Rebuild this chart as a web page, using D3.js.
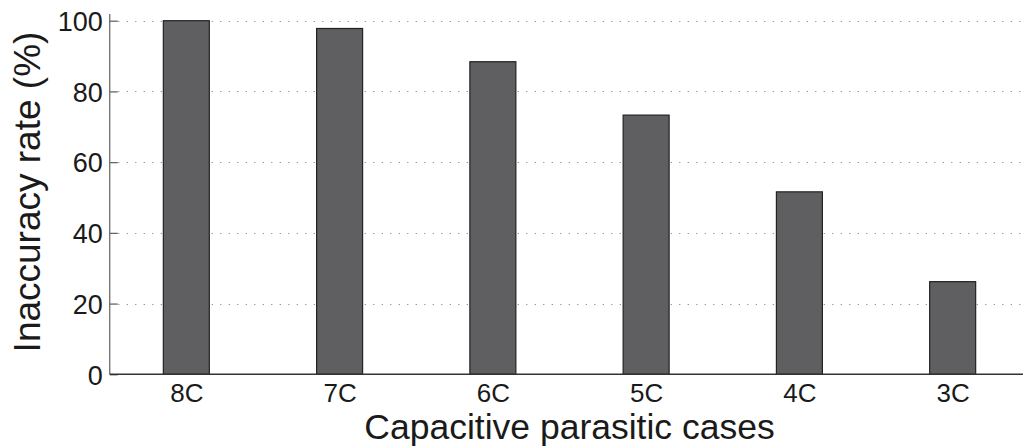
<!DOCTYPE html>
<html><head><meta charset="utf-8">
<script src="https://cdn.jsdelivr.net/npm/d3@7"></script>
<style>
html,body{margin:0;padding:0;background:#fff;}
text{font-family:"Liberation Sans",Arial,Helvetica,sans-serif;fill:#1a1a1a;}
</style></head>
<body>
<svg id="chart" width="1023" height="446"></svg>
<script>
const categories = ["8C","7C","6C","5C","4C","3C"];
const values = [100, 97.8, 88.4, 73.3, 51.6, 26.2];
const yTicks = [0, 20, 40, 60, 80, 100];
const xLabel = "Capacitive parasitic cases";
const yLabel = "Inaccuracy rate (%)";

const svg = d3.select("#chart");
const left = 109.7, right = 1029.3, y0 = 374.3, y100 = 20.7, axisTop = 14;

const x = d3.scaleLinear().domain([0.5, categories.length + 0.5]).range([left, right]);
const y = d3.scaleLinear().domain([0, 100]).range([y0, y100]);
const barW = (x(1) - x(0)) * 0.3;

// grid
svg.append("g").selectAll("line").data(yTicks.filter(d => d > 0)).join("line")
  .attr("x1", left).attr("x2", right)
  .attr("y1", d => Math.round(y(d)) + 0.5).attr("y2", d => Math.round(y(d)) + 0.5)
  .attr("stroke", "#8a8a8a").attr("stroke-width", 1)
  .attr("stroke-dasharray", "1.2,7.3");

// bars
svg.append("g").selectAll("rect").data(values).join("rect")
  .attr("x", (d, i) => x(i + 1) - barW / 2)
  .attr("width", barW)
  .attr("y", d => y(d))
  .attr("height", d => y0 - y(d))
  .attr("fill", "#5f5f61")
  .attr("stroke", "#222").attr("stroke-width", 1.2);

// y axis
const yAxis = d3.axisLeft(y).tickValues(yTicks).tickSizeInner(-8).tickSizeOuter(0).tickPadding(7);
const gy = svg.append("g").attr("transform", `translate(${left},0)`).call(yAxis);
gy.select(".domain").remove();
gy.selectAll(".tick line").attr("stroke", "#666").attr("stroke-width", 1.3);
gy.selectAll(".tick text").attr("font-size", 27).attr("dy", "0.36em").style("fill", "#1a1a1a");
svg.append("line").attr("x1", left).attr("x2", left).attr("y1", axisTop).attr("y2", y0)
  .attr("stroke", "#777").attr("stroke-width", 1.4);

// x axis
const xAxis = d3.axisBottom(x).tickValues(d3.range(1, categories.length + 1))
  .tickFormat(d => categories[d - 1]).tickSize(0).tickPadding(9);
const gx = svg.append("g").attr("transform", `translate(0,${y0})`).call(xAxis);
gx.select(".domain").remove();
gx.selectAll(".tick text").attr("font-size", 26).attr("dy", "0.71em").style("fill", "#1a1a1a");
svg.append("line").attr("x1", left).attr("x2", right).attr("y1", y0).attr("y2", y0)
  .attr("stroke", "#333").attr("stroke-width", 1.4);

// labels
svg.append("text").attr("x", (left + right) / 2).attr("y", 438.8)
  .attr("text-anchor", "middle").attr("font-size", 35.5).text(xLabel);
svg.append("text").attr("transform", "translate(40,192) rotate(-90)")
  .attr("text-anchor", "middle").attr("font-size", 37).text(yLabel);
</script>
</body></html>
